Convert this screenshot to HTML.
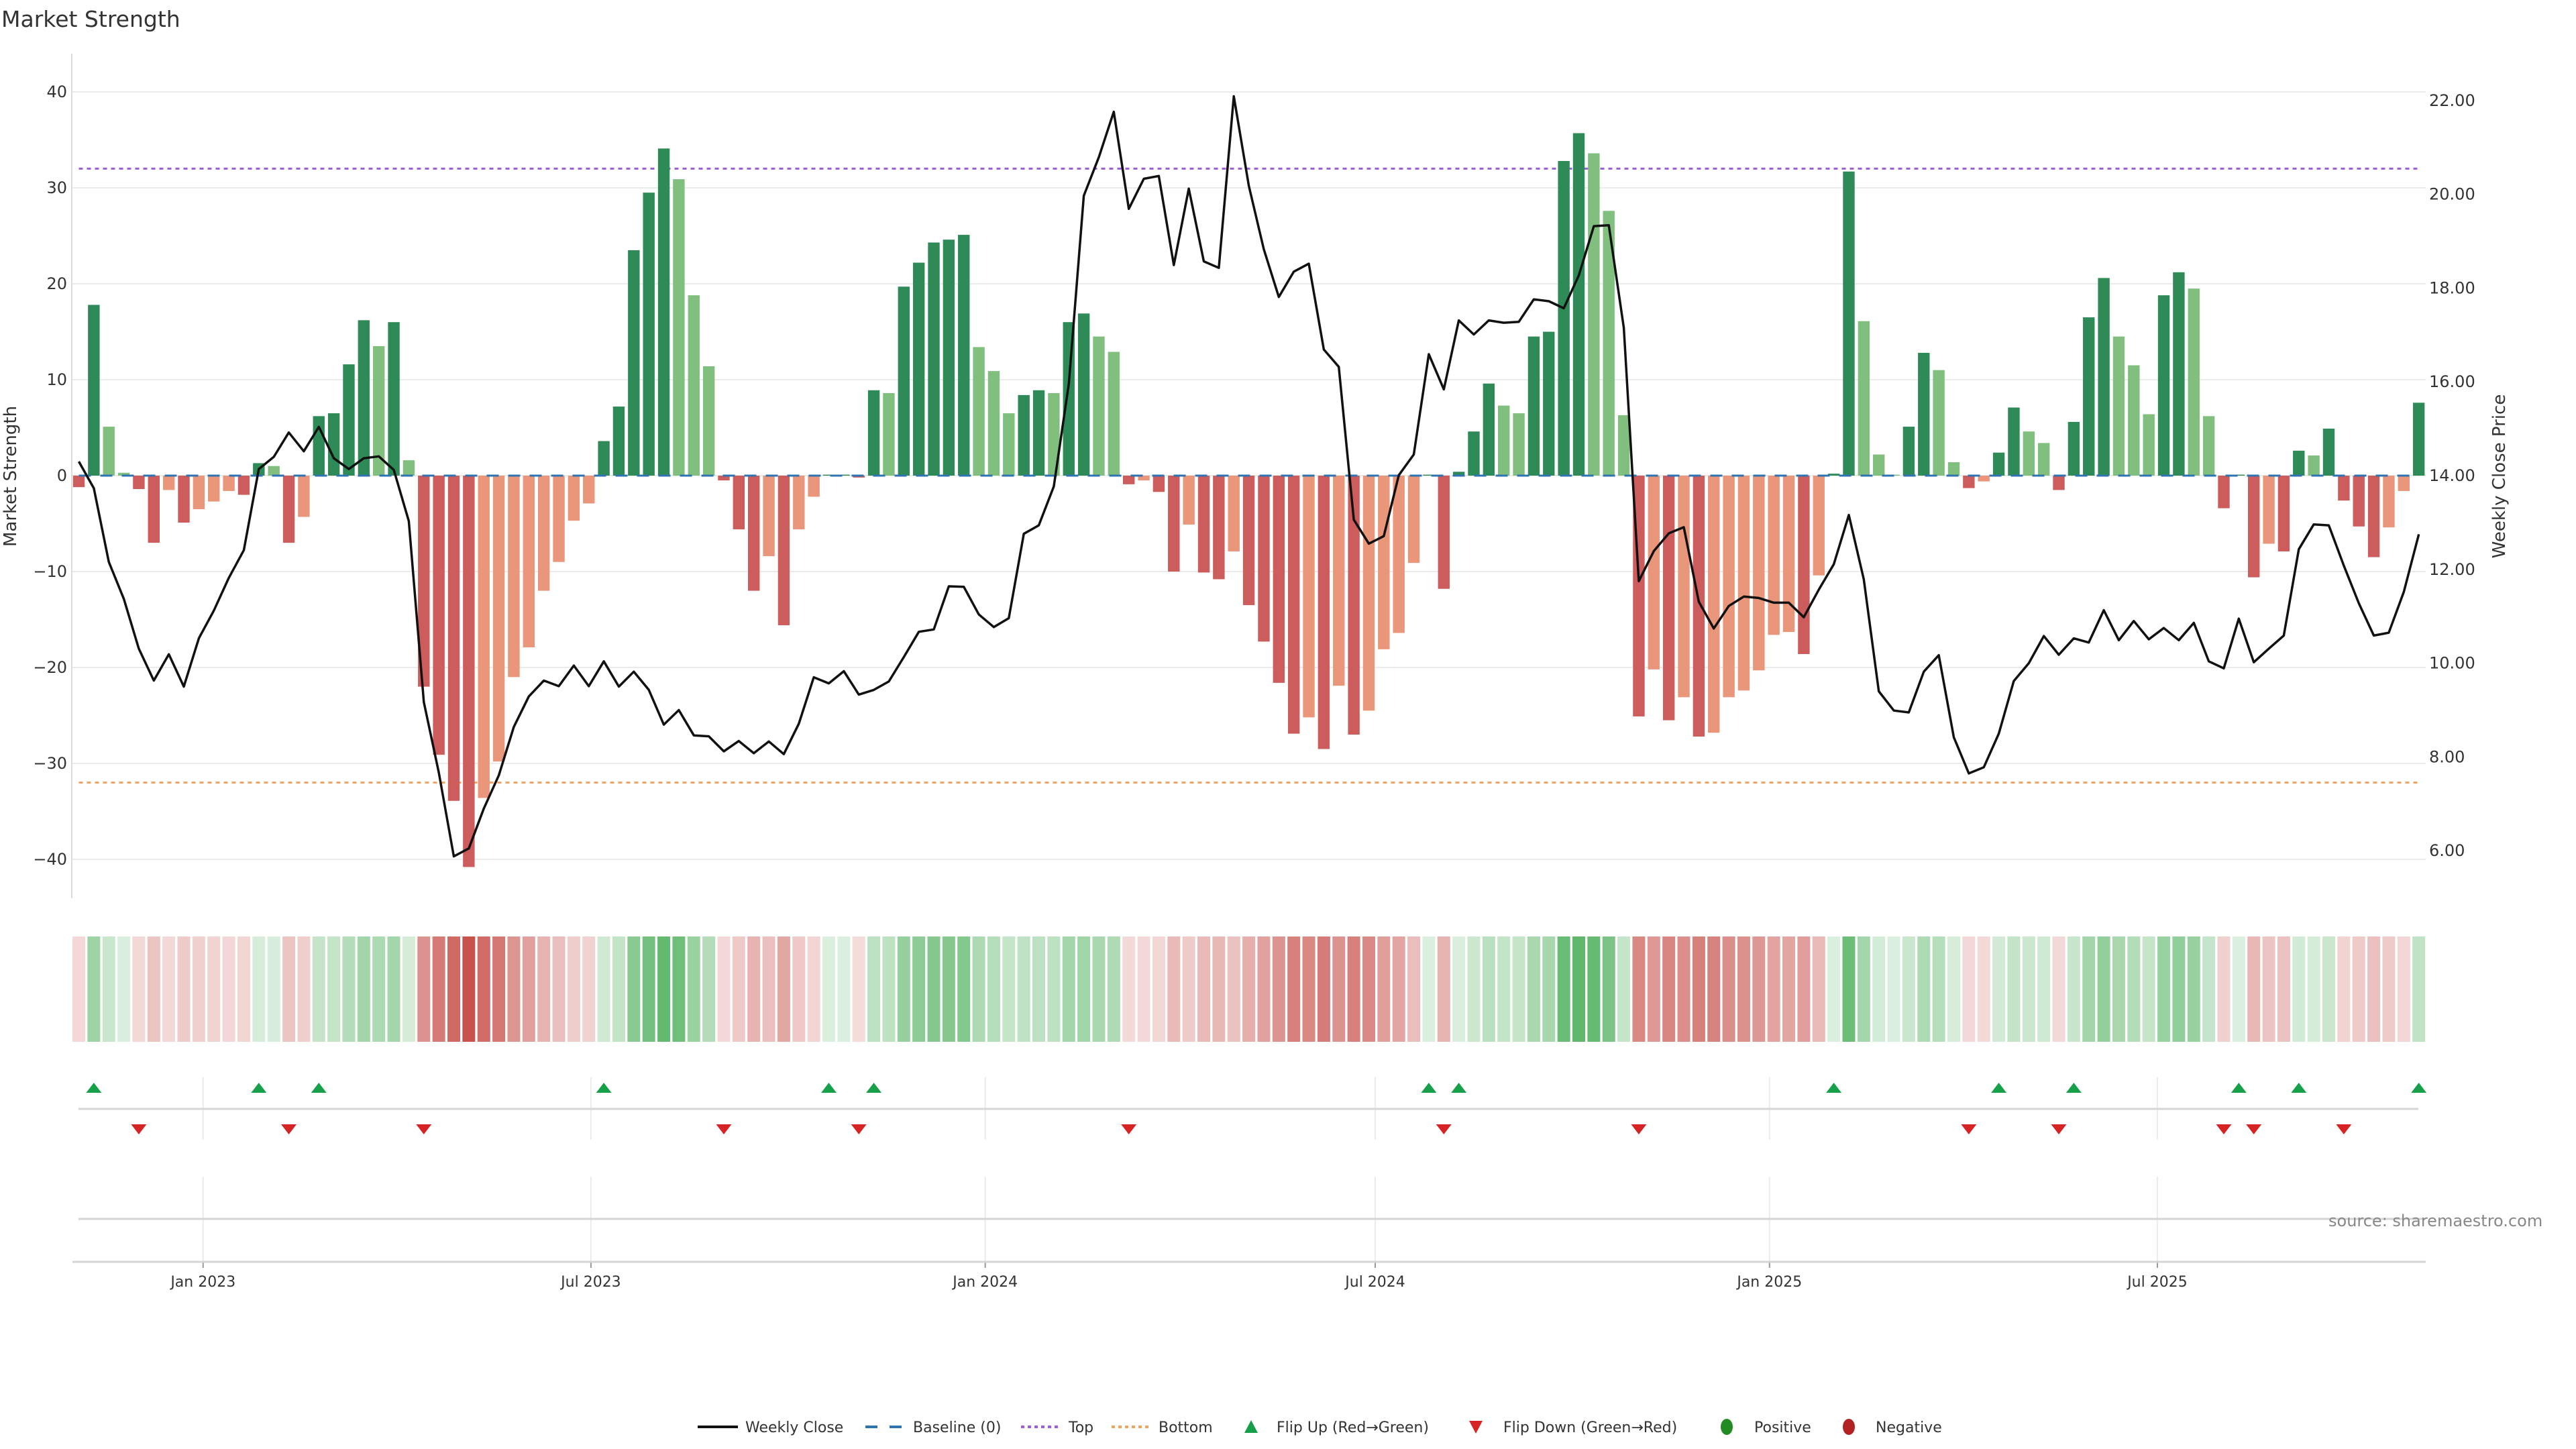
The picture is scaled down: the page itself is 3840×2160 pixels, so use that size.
<!DOCTYPE html>
<html><head><meta charset="utf-8"><title>Market Strength</title>
<style>
html,body{margin:0;padding:0;background:#fff;}
svg{display:block;font-family:"DejaVu Sans","Liberation Sans",sans-serif;}
</style></head>
<body>
<svg id="chart" width="3840" height="2160" viewBox="0 0 3840 2160" xmlns="http://www.w3.org/2000/svg">
<rect width="3840" height="2160" fill="#fff"/>
<text x="2" y="40" font-size="33" fill="#333">Market Strength</text>
<g id="grid"></g><g id="refs"></g><g id="bars"></g><g id="line"></g><g id="strip"></g><g id="flips"></g><g id="axes"></g><g id="legend"></g>
</svg>
<script>
const strength=[-1.2,17.8,5.1,0.3,-1.4,-7.0,-1.5,-4.9,-3.5,-2.7,-1.6,-2.0,1.3,1.0,-7.0,-4.3,6.2,6.5,11.6,16.2,13.5,16.0,1.6,-22.0,-29.1,-33.9,-40.8,-33.6,-29.8,-21.0,-17.9,-12.0,-9.0,-4.7,-2.9,3.6,7.2,23.5,29.5,34.1,30.9,18.8,11.4,-0.5,-5.6,-12.0,-8.4,-15.6,-5.6,-2.2,0.1,0.1,-0.2,8.9,8.6,19.7,22.2,24.3,24.6,25.1,13.4,10.9,6.5,8.4,8.9,8.6,16.0,16.9,14.5,12.9,-0.9,-0.5,-1.7,-10.0,-5.1,-10.1,-10.8,-7.9,-13.5,-17.3,-21.6,-26.9,-25.2,-28.5,-21.9,-27.0,-24.5,-18.1,-16.4,-9.1,0.1,-11.8,0.4,4.6,9.6,7.3,6.5,14.5,15.0,32.8,35.7,33.6,27.6,6.3,-25.1,-20.2,-25.5,-23.1,-27.2,-26.8,-23.1,-22.4,-20.3,-16.6,-16.3,-18.6,-10.4,0.2,31.7,16.1,2.2,0.1,5.1,12.8,11.0,1.4,-1.3,-0.6,2.4,7.1,4.6,3.4,-1.5,5.6,16.5,20.6,14.5,11.5,6.4,18.8,21.2,19.5,6.2,-3.4,0.1,-10.6,-7.1,-7.9,2.6,2.1,4.9,-2.6,-5.3,-8.5,-5.4,-1.6,7.6];
const closePrice=[14.30,13.73,12.16,11.37,10.31,9.63,10.19,9.50,10.53,11.12,11.82,12.41,14.14,14.40,14.92,14.52,15.04,14.37,14.14,14.37,14.41,14.12,13.03,9.17,7.67,5.88,6.05,6.90,7.61,8.64,9.29,9.63,9.51,9.95,9.51,10.04,9.50,9.82,9.43,8.69,9.00,8.46,8.44,8.12,8.34,8.08,8.33,8.06,8.71,9.70,9.57,9.83,9.33,9.43,9.61,10.13,10.67,10.72,11.64,11.63,11.04,10.77,10.96,12.76,12.94,13.77,15.96,19.97,20.79,21.76,19.69,20.33,20.39,18.49,20.12,18.57,18.43,22.09,20.18,18.83,17.81,18.35,18.52,16.69,16.32,13.06,12.55,12.71,14.01,14.45,16.59,15.84,17.31,17.01,17.31,17.26,17.28,17.76,17.72,17.57,18.27,19.32,19.34,17.15,11.75,12.39,12.77,12.90,11.31,10.74,11.22,11.42,11.39,11.29,11.29,10.98,11.57,12.11,13.16,11.79,9.40,8.99,8.95,9.82,10.17,8.42,7.65,7.78,8.50,9.62,10.00,10.58,10.18,10.53,10.44,11.13,10.49,10.90,10.51,10.75,10.49,10.86,10.04,9.89,10.95,10.02,10.31,10.59,12.43,12.96,12.94,12.08,11.28,10.59,10.65,11.52,12.75];
const startDate="2022-11-04";
const xTickDates=["2023-01-01","2023-07-01","2024-01-01","2024-07-01","2025-01-01","2025-07-01"];
const xTickLabels=["Jan 2023","Jul 2023","Jan 2024","Jul 2024","Jan 2025","Jul 2025"];
const leftTicks=[40,30,20,10,0,-10,-20,-30,-40];
const rightTicks=[22,20,18,16,14,12,10,8,6];
const topLevel=32, bottomLevel=-32;

const NS="http://www.w3.org/2000/svg";
function mk(tag,attrs,parent){const e=document.createElementNS(NS,tag);for(const k in attrs)e.setAttribute(k,attrs[k]);if(parent)parent.appendChild(e);return e;}
const X0=117.5, PITCH=22.36;
function xI(i){return X0+i*PITCH;}
function yS(v){return 709-v*14.3;}
function yP(p){return 709-(p-14)*69.9;}
function dateIdx(d){return (new Date(d+"T00:00:00Z")-new Date(startDate+"T00:00:00Z"))/(7*86400000);}
const XL=108, XR=3616;

const grid=document.getElementById('grid');
const axes=document.getElementById('axes');
leftTicks.forEach(v=>{
  const l=mk('line',{x1:XL,x2:XR,y1:yS(v),y2:yS(v),stroke:'#ebebeb','stroke-width':2},grid);
  
  
  const t=mk('text',{x:100,y:yS(v)+8,'text-anchor':'end','font-size':24,fill:'#333'},axes);
  t.textContent=(v<0?'\u2212':'')+Math.abs(v);
  
  
});
rightTicks.forEach(p=>{
  const t=mk('text',{x:3621,y:yP(p)+8,'font-size':24,fill:'#333'},axes);
  t.textContent=p.toFixed(2);
  
  
});
const sp=mk('line',{x1:107,x2:107,y1:80,y2:1339,stroke:'#dcdcdc','stroke-width':2},axes);


let yt=mk('text',{x:0,y:0,'font-size':26,fill:'#333','text-anchor':'middle',transform:'translate(24,710) rotate(-90)'},axes);
yt.textContent='Market Strength';


let yt2=mk('text',{x:0,y:0,'font-size':26,fill:'#333','text-anchor':'middle',transform:'translate(3734,710) rotate(-90)'},axes);
yt2.textContent='Weekly Close Price';



const bars=document.getElementById('bars');
strength.forEach((v,i)=>{
  const prev=i>0?strength[i-1]:v;
  let c;
  if(v>=0) c=(v>=prev)?'#2e8b57':'#80bf7e';
  else c=(v<=prev)?'#cd5c5c':'#e9967a';
  const y=Math.min(yS(v),yS(0)), h=Math.abs(yS(v)-yS(0));
  const r=mk('rect',{x:xI(i)-8.7,y:y,width:17.4,height:Math.max(h,1),fill:c},bars);
  
  
});
const refs=document.getElementById('refs');
let bl=mk('line',{x1:xI(0),x2:xI(strength.length-1),y1:yS(0),y2:yS(0),stroke:'#2f74b0','stroke-width':3,'stroke-dasharray':'18 14'},document.getElementById('line'));


let tl=mk('line',{x1:xI(0),x2:xI(strength.length-1),y1:yS(topLevel),y2:yS(topLevel),stroke:'#9b5fd6','stroke-width':3,'stroke-dasharray':'6 6'},refs);


let btl=mk('line',{x1:xI(0),x2:xI(strength.length-1),y1:yS(bottomLevel),y2:yS(bottomLevel),stroke:'#eea45e','stroke-width':3,'stroke-dasharray':'6 6'},refs);


const pts=closePrice.map((p,i)=>xI(i).toFixed(1)+','+yP(p).toFixed(1)).join(' ');
let pl=mk('polyline',{points:pts,fill:'none',stroke:'#111','stroke-width':3.5,'stroke-linejoin':'round'},document.getElementById('line'));



const strip=document.getElementById('strip');
strength.forEach((v,i)=>{
  const a=0.2+0.8*Math.min(1,Math.abs(v)/41);
  const c=v>=0?`rgba(76,175,90,${a.toFixed(3)})`:`rgba(200,82,76,${a.toFixed(3)})`;
  const r=mk('rect',{x:xI(i)-9.5,y:1396,width:19,height:157,fill:c},strip);
  
  
});

xTickDates.forEach((d,k)=>{
  const x=xI(dateIdx(d));
  let g1=mk('line',{x1:x,x2:x,y1:1606,y2:1699,stroke:'#ebebeb','stroke-width':2},grid);
  
  
  let g2=mk('line',{x1:x,x2:x,y1:1754,y2:1881,stroke:'#ebebeb','stroke-width':2},grid);
  
  
  let tk=mk('line',{x1:x,x2:x,y1:1881,y2:1890,stroke:'#999','stroke-width':2},axes);
  
  
  const t=mk('text',{x:x,y:1918,'text-anchor':'middle','font-size':22,fill:'#333'},axes);
  t.textContent=xTickLabels[k];
  
  
});
let fl=mk('line',{x1:117,x2:3605,y1:1653,y2:1653,stroke:'#d5d5d5','stroke-width':3},grid);


let bl3=mk('line',{x1:117,x2:3616,y1:1817,y2:1817,stroke:'#d5d5d5','stroke-width':3},grid);


let xa=mk('line',{x1:108,x2:3616,y1:1881,y2:1881,stroke:'#d5d5d5','stroke-width':3},axes);


let src=mk('text',{x:3471,y:1828,'font-size':24,fill:'#888'},axes);
src.textContent='source: sharemaestro.com';



const flips=document.getElementById('flips');
for(let i=1;i<strength.length;i++){
  const a=strength[i-1], b=strength[i], x=xI(i);
  if(a<0 && b>=0){
    const t=mk('polygon',{points:`${x-11.5},1629 ${x+11.5},1629 ${x},1614`,fill:'#17a04a'},flips);
    
    
  } else if(a>=0 && b<0){
    const t=mk('polygon',{points:`${x-11.5},1676 ${x+11.5},1676 ${x},1691`,fill:'#d62424'},flips);
    
    
  }
}

const lg=document.getElementById('legend');
const LY=2127;
function ltxt(x,s,name){const t=mk('text',{x:x,y:LY+8,'font-size':22,fill:'#333'},lg);t.textContent=s;}
let l1=mk('line',{x1:1040,x2:1100,y1:LY,y2:LY,stroke:'#111','stroke-width':4},lg);


ltxt(1111,'Weekly Close','legend-weekly-close');
let l2=mk('line',{x1:1290,x2:1345,y1:LY,y2:LY,stroke:'#2f74b0','stroke-width':4,'stroke-dasharray':'18 18'},lg);


ltxt(1361,'Baseline (0)','legend-baseline');
let l3=mk('line',{x1:1522,x2:1578,y1:LY,y2:LY,stroke:'#9b5fd6','stroke-width':4,'stroke-dasharray':'5 5'},lg);


ltxt(1593,'Top','legend-top');
let l4=mk('line',{x1:1657,x2:1712,y1:LY,y2:LY,stroke:'#eea45e','stroke-width':4,'stroke-dasharray':'5 5'},lg);


ltxt(1727,'Bottom','legend-bottom');
let l5=mk('polygon',{points:`1855,${LY+9} 1875,${LY+9} 1865,${LY-10}`,fill:'#17a04a'},lg);


ltxt(1903,'Flip Up (Red\u2192Green)','legend-flip-up');
let l6=mk('polygon',{points:`2190,${LY-9} 2210,${LY-9} 2200,${LY+10}`,fill:'#d62424'},lg);


ltxt(2241,'Flip Down (Green\u2192Red)','legend-flip-down');
let l7=mk('ellipse',{cx:2574,cy:LY,rx:9,ry:12,fill:'#228b22'},lg);


ltxt(2615,'Positive','legend-positive');
let l8=mk('ellipse',{cx:2756,cy:LY,rx:9,ry:12,fill:'#b22222'},lg);


ltxt(2796,'Negative','legend-negative');
</script>
</body></html>
